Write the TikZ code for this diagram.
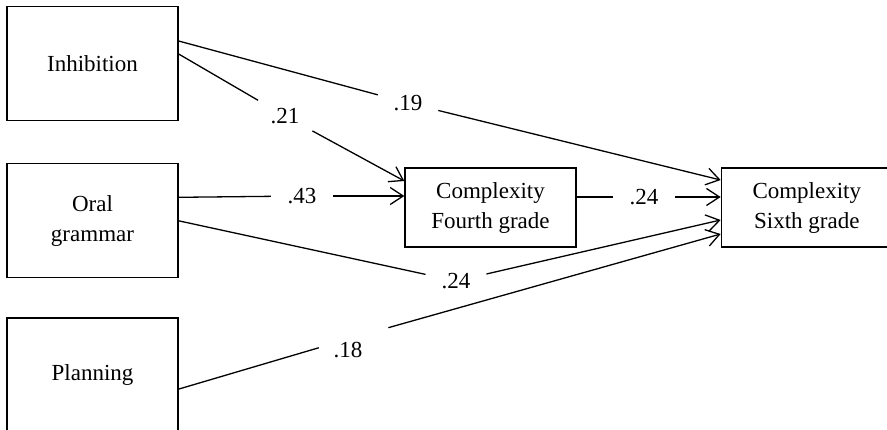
\documentclass[tikz,border=0pt]{standalone}
\usepackage{fontspec}
\setmainfont{Liberation Serif}
\usetikzlibrary{positioning, arrows.meta}

\begin{document}
\begin{tikzpicture}[
x=1pt, y=-1pt,
every node/.style={font=\fontsize{23}{30}\selectfont},
var box/.style={draw, line width=1.3pt, minimum width=171pt, minimum height=114pt, align=center, inner sep=0pt},
grade box/.style={draw, line width=1.3pt, minimum width=171pt, minimum height=79pt, align=center, inner sep=0pt},
coef/.style={circle, minimum size=62pt, inner sep=0pt},
path line/.style={line width=1.3pt},
arrow/.style={path line, -{Straight Barb[length=13pt, width=17pt, line width=1.3pt]}},
]
\useasboundingbox (0,0) rectangle (887,429);

% Predictor boxes on the left
\node[var box] (inhib) at (92.5,63.5) {Inhibition};
\node[var box, below=42pt of inhib] (oral) {Oral\\grammar};
\node[var box, below=39pt of oral] (plan) {Planning};

% Outcome boxes
\node[grade box] (fourth) at (490.5,207.5) {Complexity\\Fourth grade};
\node[grade box, right=144pt of fourth] (sixth) {Complexity\\Sixth grade};

% Path coefficients
\node[coef] (c19) at (408,103) {.19};
\node[coef] (c21) at (285,116) {.21};
\node[coef] (c43) at (302,196) {.43};
\node[coef] (c24a) at (644,197) {.24};
\node[coef] (c24b) at (456,281) {.24};
\node[coef, minimum size=72pt] (g18) at (353.5,337.5) {};
\node (l18) at (348,350) {.18};

% Paths into fourth grade
\draw[path line] ([yshift=9.5pt]inhib.east) -- (c21);
\draw[arrow] (c21) -- ([yshift=26.5pt]fourth.west);
\draw[path line] ([yshift=23.5pt]oral.east) -- (c43);
\draw[arrow] (c43) -- ([yshift=11.5pt]fourth.west);

% Paths into sixth grade
\draw[path line] ([yshift=22.5pt]inhib.east) -- (c19);
\draw[arrow] (c19) -- ([yshift=27.5pt]sixth.west);
\draw[path line] ([yshift=10.5pt]fourth.east) -- (c24a);
\draw[arrow] (c24a) -- ([yshift=10.5pt]sixth.west);
\draw[path line] (oral.east) -- (c24b);
\draw[arrow] (c24b) -- ([yshift=-12.5pt]sixth.west);
\draw[path line] ([yshift=-14pt]plan.east) -- (g18);
\draw[arrow] (g18) -- ([yshift=-26.5pt]sixth.west);
\end{tikzpicture}
\end{document}
